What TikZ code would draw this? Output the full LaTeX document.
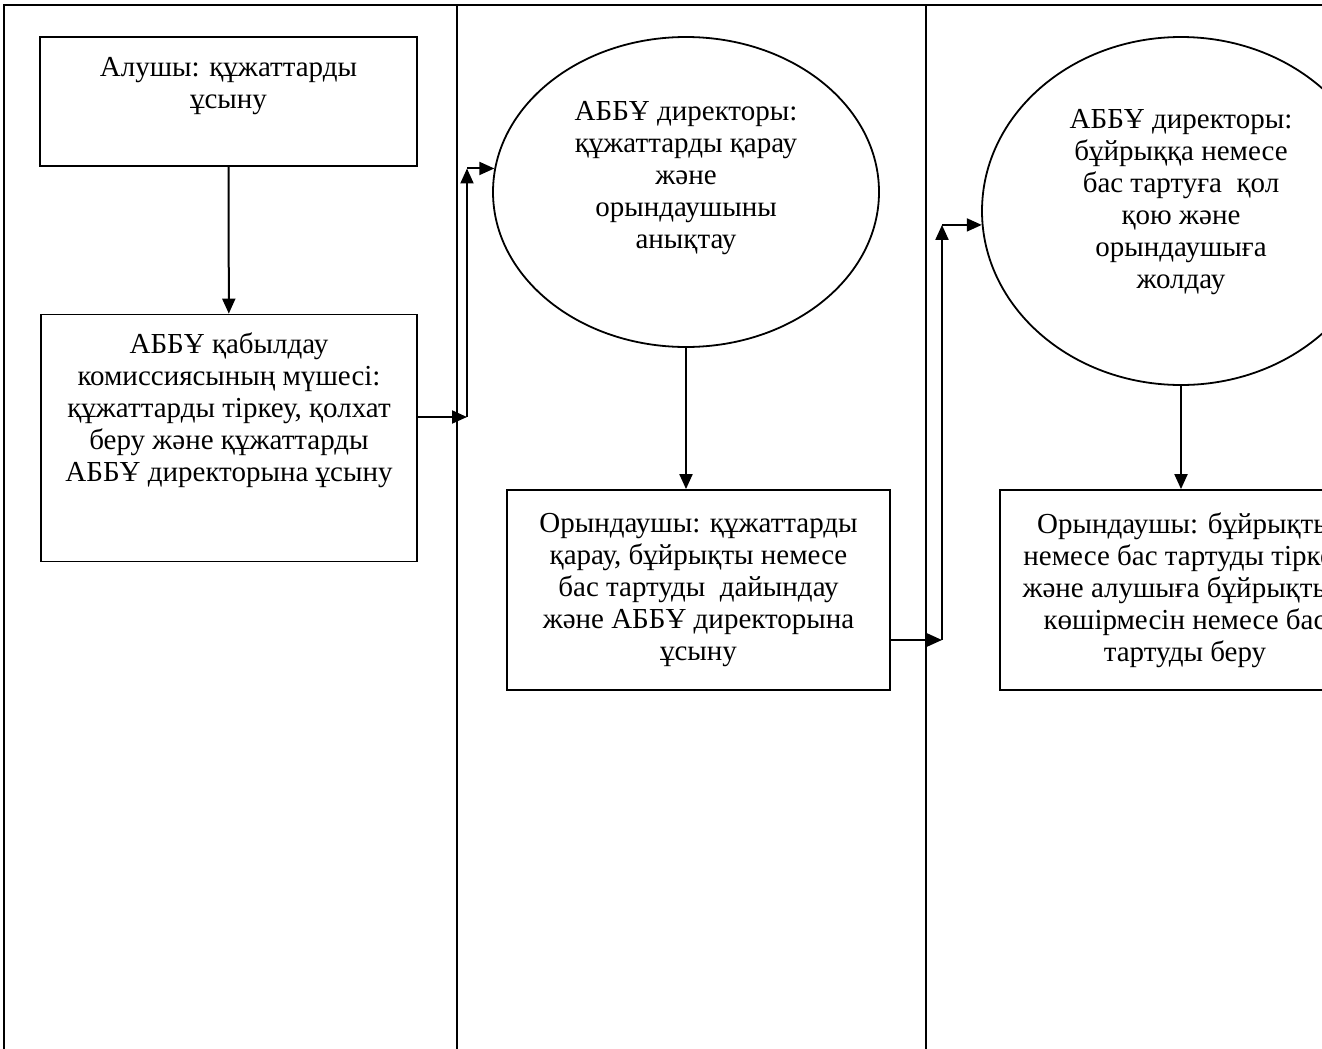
\documentclass[tikz,border=0pt]{standalone}
\usepackage{fontspec}
\setmainfont{Liberation Serif}
\usetikzlibrary{arrows.meta,shapes,positioning}
\tikzset{
    stepcard/.style={
    rectangle,draw=black,line width=0.9pt,align=center,inner sep=2pt,
    font=\fontsize{14.5}{16}\selectfont
    },
    decision/.style={
    ellipse,draw=black,line width=0.9pt,align=center,inner sep=0pt,
    font=\fontsize{14.5}{16}\selectfont
    },
    flow/.style={
    line width=1pt,-{Triangle[length=7.5pt,width=6.5pt]}
    },
    lane/.style={
    line width=0.7pt
    },
}
\begin{document}
\begin{tikzpicture}[x=0.5pt,y=-0.5pt]
  \clip (0,0) rectangle (1322,1049);
  \fill[white] (0,0) rectangle (1322,1049);
  % swim lanes
  \draw[lane] (4,1049) -- (4,5) -- (1322,5);
  \draw[lane] (457,5) -- (457,1049);
  \draw[lane] (926,5) -- (926,1049);

  \node[stepcard,minimum width=188.5pt,minimum height=64.5pt,text depth=19pt] (recv) at (228.5,101.5) {Алушы: құжаттарды\\ұсыну};
  \node[stepcard,minimum width=188pt,minimum height=123.5pt,text depth=31pt] (comm) at (229,438) {АББҰ қабылдау\\комиссиясының мүшесі:\\құжаттарды тіркеу, қолхат\\беру және құжаттарды\\АББҰ директорына ұсыну};
  \node[decision,minimum width=193pt,minimum height=155pt,text depth=17pt] (dir1) at (686,192) {АББҰ директоры:\\құжаттарды қарау\\және\\орындаушыны\\анықтау};
  \node[stepcard,minimum width=191.5pt,minimum height=100pt] (exec1) at (698.5,590) {Орындаушы: құжаттарды\\қарау, бұйрықты немесе\\бас тартуды\ \ дайындау\\және АББҰ директорына\\ұсыну};
  \node[decision,minimum width=199pt,minimum height=174pt,text depth=12pt] (dir2) at (1181,211) {АББҰ директоры:\\бұйрыққа немесе\\бас тартуға\ \ қол\\қою және\\орындаушыға\\жолдау};
  \node[stepcard,minimum width=185pt,minimum height=100pt] (exec2) at (1185,590) {Орындаушы: бұйрықты\\немесе бас тартуды тіркеу\\және алушыға бұйрықтың\\көшірмесін немесе бас\\тартуды беру};

  \coordinate (bendA) at (467,417);
  \coordinate (bendB) at (bendA |- dir1.173);
  \coordinate (bendC) at (942,640);
  \coordinate (bendD) at (bendC |- dir2.184);

  \path[flow]
    (recv) edge node {} (comm)
    (comm.east |- bendA) edge node {} (bendA)
    (bendA) edge node {} (bendB)
    (bendB) edge node {} (dir1.173)
    (dir1.south) edge node {} (dir1.south |- exec1.north)
    (exec1.east |- bendC) edge node {} (bendC)
    (bendC) edge node {} (bendD)
    (bendD) edge node {} (dir2.184)
    (dir2.south) edge node {} (dir2.south |- exec2.north);
\end{tikzpicture}
\end{document}
